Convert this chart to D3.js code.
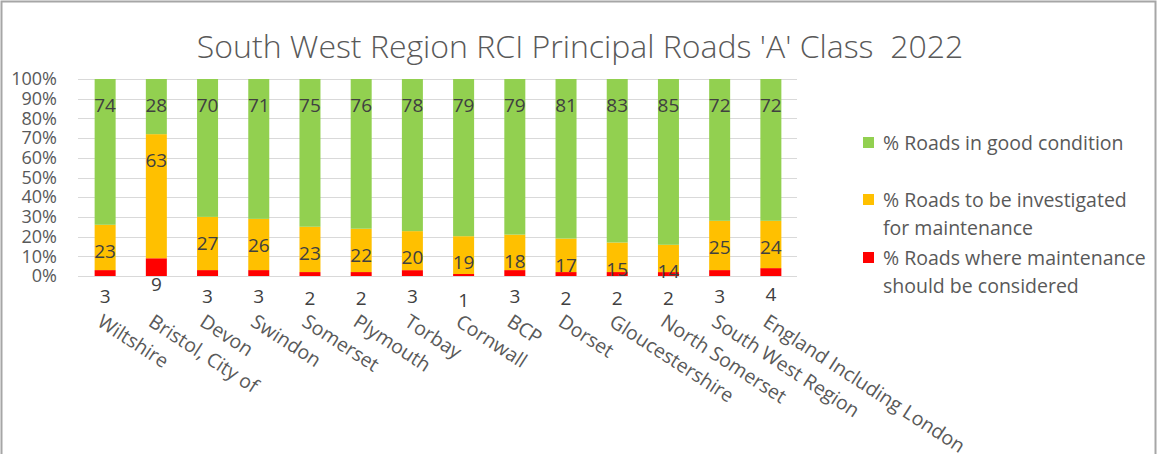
<!DOCTYPE html>
<html>
<head>
<meta charset="utf-8">
<script src="https://cdn.jsdelivr.net/npm/d3@7"></script>
<style>
  html, body { margin: 0; padding: 0; background: #fff; }
  svg { display: block; font-family: "Open Sans", sans-serif; }
</style>
</head>
<body>
<svg id="chart" width="1158" height="454"></svg>
<script>
const categories = ["Wiltshire","Bristol, City of","Devon","Swindon","Somerset","Plymouth","Torbay","Cornwall","BCP","Dorset","Gloucestershire","North Somerset","South West Region","England Including London"];
const redValues   = [3, 9, 3, 3, 2, 2, 3, 1, 3, 2, 2, 2, 3, 4];
const amberValues = [23, 63, 27, 26, 23, 22, 20, 19, 18, 17, 15, 14, 25, 24];
const greenValues = [74, 28, 70, 71, 75, 76, 78, 79, 79, 81, 83, 85, 72, 72];
const yTicks = [0, 0.1, 0.2, 0.3, 0.4, 0.5, 0.6, 0.7, 0.8, 0.9, 1.0];
const titleText = "South West Region RCI Principal Roads 'A' Class  2022";

const colors = { red: "#FF0000", amber: "#FFC000", green: "#92D050" };
const keys = ["red", "amber", "green"];

const rows = categories.map((c, i) => ({ cat: c, red: redValues[i], amber: amberValues[i], green: greenValues[i] }));
const stacked = d3.stack().keys(keys).offset(d3.stackOffsetExpand)(rows);

const svg = d3.select("#chart");

// frame
svg.append("rect").attr("x", 1.5).attr("y", 1.5).attr("width", 1154).attr("height", 470)
  .attr("fill", "#fff").attr("stroke", "#a6a6a6").attr("stroke-width", 2);

const x = d3.scaleBand().domain(categories).range([78.5, 797.5]).paddingInner(0.59).paddingOuter(0.315);
const y = d3.scaleLinear().domain([0, 1]).range([276, 79]);

// gridlines
svg.append("g").selectAll("line").data(yTicks).join("line")
  .attr("x1", 78).attr("x2", 797)
  .attr("y1", d => Math.round(y(d)) + 0.5).attr("y2", d => Math.round(y(d)) + 0.5)
  .attr("stroke", "#d9d9d9").attr("stroke-width", 1);

// y axis labels
const yAxis = d3.axisLeft(y).tickValues(yTicks).tickFormat(d3.format(".0%")).tickSize(0).tickPadding(0);
const gy = svg.append("g").attr("transform", "translate(57,0)").call(yAxis);
gy.select(".domain").remove();
gy.selectAll("text").attr("font-size", 18).attr("fill", "#595959").attr("font-family", "Open Sans");

// bars
const g = svg.append("g");
stacked.forEach(s => {
  g.append("g").attr("fill", colors[s.key]).selectAll("rect").data(s).join("rect")
    .attr("x", d => x(d.data.cat))
    .attr("width", x.bandwidth())
    .attr("y", d => y(d[1]))
    .attr("height", d => y(d[0]) - y(d[1]));
});

// data labels (inside end)
stacked.forEach(s => {
  svg.append("g").selectAll("text").data(s).join("text")
    .attr("x", d => x(d.data.cat) + x.bandwidth() / 2)
    .attr("y", d => y(d[1]) + 26)
    .attr("text-anchor", "middle").attr("dominant-baseline", "central")
    .attr("font-size", 19).attr("fill", "#404040")
    .text(d => d.data[s.key]);
});

// category labels
const gx = svg.append("g");
gx.selectAll("text").data(categories).join("text")
  .attr("transform", d => `translate(${x(d) + x.bandwidth() / 2},${311}) rotate(33)`)
  .attr("text-anchor", "start").attr("dominant-baseline", "hanging")
  .attr("font-size", 19.5).attr("fill", "#595959")
  .text(d => d);

// title
svg.append("text").attr("x", 580).attr("y", 45).attr("text-anchor", "middle").attr("dominant-baseline", "central")
  .attr("font-size", 32).attr("fill", "#595959").attr("font-weight", 300)
  .style("white-space", "pre").attr("xml:space", "preserve").text(titleText);

// legend
const legend = [
  { key: "green", lines: ["% Roads in good condition"], y: 142 },
  { key: "amber", lines: ["% Roads to be investigated", "for maintenance"], y: 199 },
  { key: "red", lines: ["% Roads where maintenance", "should be considered"], y: 257 }
];
const lg = svg.append("g");
legend.forEach(l => {
  lg.append("rect").attr("x", 863).attr("y", l.y - 5).attr("width", 11).attr("height", 11).attr("fill", colors[l.key]);
  l.lines.forEach((t, i) => {
    lg.append("text").attr("x", 883).attr("y", l.y + i * 28).attr("dominant-baseline", "central")
      .attr("font-size", 19.5).attr("fill", "#595959").text(t);
  });
});
</script>
</body>
</html>
